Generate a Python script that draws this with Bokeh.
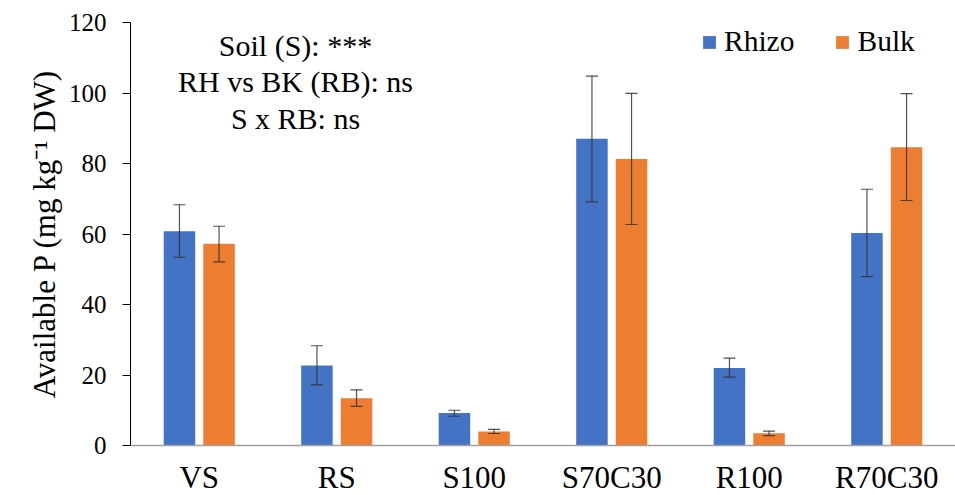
from bokeh.plotting import figure
from bokeh.models import (ColumnDataSource, FactorRange, Range1d, Whisker, TeeHead,
                          Legend, LegendItem, Label, FixedTicker)
from bokeh.transform import dodge
from bokeh.embed import file_html
from bokeh.resources import INLINE

# ---- data ----
soils = ["VS", "RS", "S100", "S70C30", "R100", "R70C30"]
rhizo = [60.8, 22.7, 9.2, 87.0, 22.0, 60.3]
rhizo_lo = [53.4, 17.2, 8.3, 69.1, 19.4, 47.9]
rhizo_hi = [68.3, 28.3, 10.0, 104.8, 24.8, 72.7]
bulk = [57.2, 13.4, 4.0, 81.3, 3.5, 84.6]
bulk_lo = [52.1, 11.1, 3.4, 62.7, 2.8, 69.5]
bulk_hi = [62.2, 15.8, 4.6, 99.9, 4.1, 99.8]
y_ticks = [0, 20, 40, 60, 80, 100, 120]
stats_lines = ["Soil (S): ***", "RH vs BK (RB): ns", "S x RB: ns"]
series_names = ["Rhizo", "Bulk"]

BLUE = "#4472C4"
ORANGE = "#ED7D31"
FONT = "Times New Roman"

src = ColumnDataSource(dict(cat=soils, rh=rhizo, rh_lo=rhizo_lo, rh_hi=rhizo_hi,
                            bk=bulk, bk_lo=bulk_lo, bk_hi=bulk_hi))

p = figure(frame_width=825, frame_height=423,
           x_range=FactorRange(factors=soils, range_padding=0),
           y_range=Range1d(0, 120), output_backend="svg", toolbar_location=None,
           min_border_left=130, min_border_right=0, min_border_top=22, min_border_bottom=0)
p.x_range.range_padding = 0
p.outline_line_color = None
p.xgrid.grid_line_color = None
p.ygrid.grid_line_color = None

off = 0.144
bw = 0.229
r1 = p.vbar(x=dodge("cat", -off, range=p.x_range), top="rh", width=bw, source=src,
            fill_color=BLUE, line_color=None)
r2 = p.vbar(x=dodge("cat", off, range=p.x_range), top="bk", width=bw, source=src,
            fill_color=ORANGE, line_color=None)

EC = "#333333"
for o, lo, hi in [(-off, "rh_lo", "rh_hi"), (off, "bk_lo", "bk_hi")]:
    w = Whisker(base=dodge("cat", o, range=p.x_range), lower=lo, upper=hi, source=src,
                level="overlay", line_color=EC, line_width=1.2, line_alpha=0.85,
                upper_head=TeeHead(size=12, line_color=EC, line_width=1.2, line_alpha=0.85),
                lower_head=TeeHead(size=12, line_color=EC, line_width=1.2, line_alpha=0.85))
    p.add_layout(w)

# axes
p.yaxis.ticker = FixedTicker(ticks=y_ticks)
p.yaxis.axis_label = "Available P (mg kg\u207b\u00b9 DW)"
p.yaxis.axis_label_text_font = FONT
p.yaxis.axis_label_text_font_size = "31px"
p.yaxis.axis_label_text_font_style = "normal"
p.yaxis.axis_label_text_color = "black"
p.yaxis.axis_label_standoff = 4
p.yaxis.major_label_text_font = FONT
p.yaxis.major_label_text_font_size = "25px"
p.yaxis.major_label_text_color = "black"
p.yaxis.major_label_standoff = 16
p.yaxis.major_tick_out = 8
p.yaxis.major_tick_in = 0
p.yaxis.minor_tick_line_color = None
p.yaxis.axis_line_color = "black"
p.yaxis.major_tick_line_color = "black"

p.xaxis.major_label_text_font = FONT
p.xaxis.major_label_text_font_size = "31px"
p.xaxis.major_label_text_color = "black"
p.xaxis.major_label_standoff = 8
p.xaxis.major_tick_line_color = None
p.xaxis.minor_tick_line_color = None
p.xaxis.axis_line_color = "#a0a0a0"
p.xaxis.axis_line_width = 1.5

# stats annotation
for i, t in enumerate(stats_lines):
    p.add_layout(Label(x=1.2, y=113.5 - i * 10.3, text=t, text_font=FONT,
                       text_font_size="30px", text_align="center", text_baseline="middle",
                       text_color="black"))

legend = Legend(items=[LegendItem(label=series_names[0], renderers=[r1]),
                       LegendItem(label=series_names[1], renderers=[r2])],
                orientation="horizontal", location=(571, 387),
                label_text_font=FONT, label_text_font_size="29.5px", label_text_color="black",
                glyph_width=16, glyph_height=16, label_standoff=7, spacing=40,
                padding=4, margin=0, border_line_color=None, background_fill_alpha=0)
p.add_layout(legend)

open("out.html", "w").write(file_html(p, INLINE))
